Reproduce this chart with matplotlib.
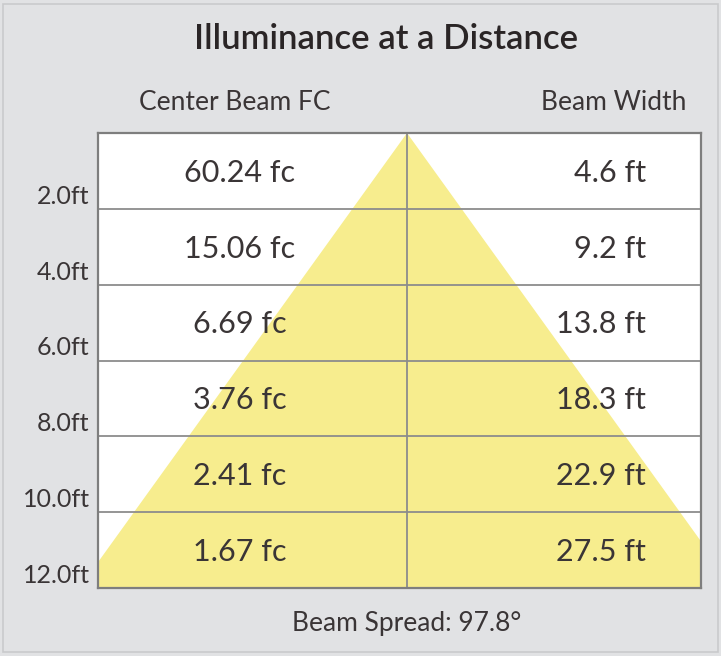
import matplotlib
matplotlib.use("Agg")
import matplotlib.pyplot as plt
from matplotlib.patches import Polygon, Rectangle

# ---- data ----
distances_ft = [2.0, 4.0, 6.0, 8.0, 10.0, 12.0]
distance_labels = ["2.0ft", "4.0ft", "6.0ft", "8.0ft", "10.0ft", "12.0ft"]
center_fc = [60.24, 15.06, 6.69, 3.76, 2.41, 1.67]
beam_width_ft = [4.6, 9.2, 13.8, 18.3, 22.9, 27.5]
beam_spread_deg = 97.8
title = "Illuminance at a Distance"
col_headers = ["Center Beam FC", "Beam Width"]

# ---- style ----
BG = "#e1e2e4"
TXT = "#3a3536"
YEL = "#f7ed8e"
LINE = "#8c8c8c"
FONT = ["Lato", "DejaVu Sans"]
plt.rcParams["font.family"] = FONT

W, H = 721, 656
fig = plt.figure(figsize=(W / 100, H / 100), dpi=100, facecolor=BG)

# figure border
fig.patches.append(Rectangle((3 / W, 4 / H), (W - 6) / W, (H - 8) / H,
                             transform=fig.transFigure, fill=False,
                             edgecolor="#c9cacc", linewidth=1.2))

# panel in pixels
px_l, px_r, px_t, px_b = 98, 701, 133, 588
apex_px = 407
ax = fig.add_axes([px_l / W, 1 - px_b / H, (px_r - px_l) / W, (px_b - px_t) / H])
ax.set_facecolor("white")

maxd = distances_ft[-1]
half = beam_width_ft[-1] / 2
px_per_ft = 0.72 * (px_b - px_t) / half
xl = -(apex_px - px_l) / px_per_ft
xr = (px_r - apex_px) / px_per_ft
ax.set_xlim(xl, xr)
ax.set_ylim(maxd, 0)

tri = Polygon([(0, 0), (-half, maxd), (half, maxd)], closed=True,
              facecolor=YEL, edgecolor="none", zorder=1)
ax.add_patch(tri)

for d in distances_ft[:-1]:
    ax.axhline(d, color=LINE, linewidth=1.3, zorder=2)
ax.axvline(0, color=LINE, linewidth=1.3, zorder=2)

for s in ax.spines.values():
    s.set_color("#7e7e7e")
    s.set_linewidth(1.6)
ax.set_xticks([])
ax.set_yticks([])

step = distances_ft[1] - distances_ft[0]
x_left_col = (240 - apex_px) / px_per_ft
x_right_col = (646 - apex_px) / px_per_ft
for d, fc, bw in zip(distances_ft, center_fc, beam_width_ft):
    yc = d - step / 2 + 0.05
    ax.text(x_left_col, yc, f"{fc:.2f} fc", ha="center", va="center",
            fontsize=22, color=TXT, zorder=3)
    ax.text(x_right_col, yc, f"{bw:.1f} ft", ha="right", va="center",
            fontsize=22, color=TXT, zorder=3)

# distance labels at left, just above each row line
for d, lab in zip(distances_ft, distance_labels):
    ax.text(-0.014, d - 0.33, lab, transform=ax.get_yaxis_transform(),
            ha="right", va="center", fontsize=18, color=TXT)

fig.text(386 / W, 1 - 39 / H, title, ha="center", va="center",
         fontsize=25, fontweight="semibold", color="#2a2526")
fig.text(235 / W, 1 - 102 / H, col_headers[0], ha="center", va="center",
         fontsize=19, color=TXT)
fig.text(614 / W, 1 - 102 / H, col_headers[1], ha="center", va="center",
         fontsize=19, color=TXT)
fig.text(407 / W, 1 - 623 / H, f"Beam Spread: {beam_spread_deg}°",
         ha="center", va="center", fontsize=19, color=TXT)

fig.savefig("out.png", dpi=100, facecolor=BG)
